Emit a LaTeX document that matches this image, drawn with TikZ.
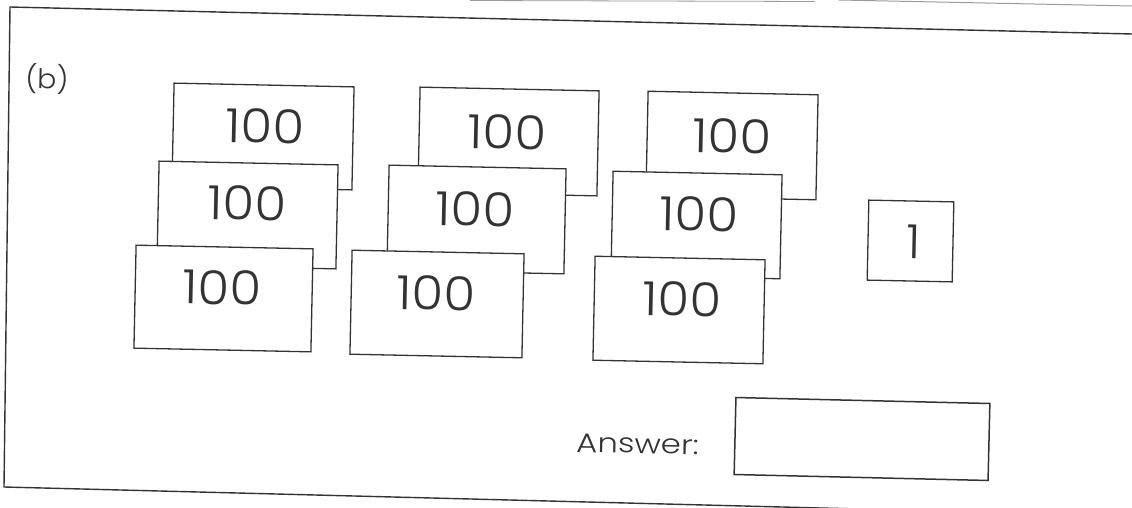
\documentclass[tikz,border=0pt]{standalone}
\usepackage{graphicx}
\usepackage{fontspec}
\setmainfont{Poppins}[UprightFont={* Light}]
\definecolor{ink}{HTML}{333333}
\definecolor{faint}{HTML}{9A9A9A}
\newcommand{\wide}[2]{\scalebox{#1}[1]{#2}}
\begin{document}
\begin{tikzpicture}[x=1pt,y=-1pt,
  card/.style={draw=ink, fill=white, line width=1.3pt, rectangle, inner sep=0pt, rotate=-1.2},
  num/.style={font=\fontsize{47}{47}\selectfont, text=ink, inner sep=0pt, rotate=-1.2},
  lbl/.style={font=\fontsize{27}{27}\selectfont, text=ink, inner sep=0pt, rotate=-1.2},
  frame/.style={draw=ink, line width=1.4pt}]
\useasboundingbox (0,0) rectangle (1132,508);
\clip (0,0) rectangle (1132,508);
% outer frame of the exercise
\draw[frame] (1132,34) -- (10,7) -- (4,487) -- (1132,516);
\draw[draw=faint, line width=1pt] (839,0) -- (1132,6);
\draw[draw=faint, line width=0.8pt] (470,0.5) -- (815,1.5);
\node[lbl, anchor=center] (b) at (47,79) {\wide{1.05}{(b)}};
% first stack
\node[card, minimum width=180, minimum height=103] (a1) at (263,136.5) {};
\node[num] (a1t) at (265,126) {\wide{1.1}{100}};
\node[card, minimum width=179, minimum height=104] (a2) at (247.5,215) {};
\node[num] (a2t) at (247.5,203) {\wide{1.1}{100}};
\node[card, minimum width=177, minimum height=103] (a3) at (223.5,298.5) {};
\node[num] (a3t) at (222.5,287.5) {\wide{1.1}{100}};
% second stack
\node[card, minimum width=179, minimum height=105] (b1) at (508.5,141.5) {};
\node[num] (b1t) at (507,132) {\wide{1.1}{100}};
\node[card, minimum width=177, minimum height=105] (b2) at (476.5,219.5) {};
\node[num] (b2t) at (475,209) {\wide{1.1}{100}};
\node[card, minimum width=172, minimum height=104] (b3) at (437,304) {};
\node[num] (b3t) at (436,293) {\wide{1.1}{100}};
% third stack
\node[card, minimum width=170, minimum height=105] (c1) at (732,145.5) {};
\node[num] (c1t) at (732,136) {\wide{1.1}{100}};
\node[card, minimum width=169, minimum height=104] (c2) at (696.5,225) {};
\node[num] (c2t) at (699,214) {\wide{1.1}{100}};
\node[card, minimum width=170, minimum height=104] (c3) at (679,310) {};
\node[num] (c3t) at (682.5,299) {\wide{1.1}{100}};
% one
\node[card, minimum width=85, minimum height=80] (o) at (910.5,241) {};
\node[num] (ot) at (914,242) {1};
% answer
\node[lbl, anchor=base west] (ans) at (576,452) {\wide{1.2}{Answer:}};
\node[card, minimum width=254, minimum height=77, line width=1.5pt, rotate=-0.15] (box) at (862,439) {};
\end{tikzpicture}
\end{document}
